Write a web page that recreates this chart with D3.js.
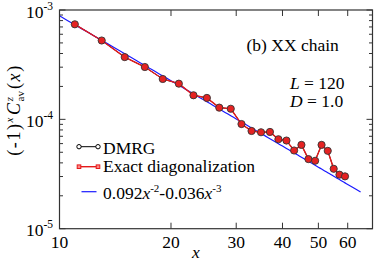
<!DOCTYPE html>
<html>
<head>
<meta charset="utf-8">
<script src="https://cdn.jsdelivr.net/npm/d3@7"></script>
<style>
  html, body { margin: 0; padding: 0; background: #fff; }
  svg { display: block; font-family: "Liberation Serif", "Times New Roman", serif; }
</style>
</head>
<body>
<div id="vis"></div>
<script>
// distance x along the chain
var sites = [11, 13, 15, 17, 19, 21, 23, 25, 27, 29, 31, 33, 35, 37, 39, 41, 43, 45, 47, 49, 51, 53, 55, 57, 59]
// (-1)^x C^z_av(x), DMRG and exact diagonalization agree
var dmrgVals = [7.40e-4, 5.26e-4, 3.71e-4, 3.01e-4, 2.34e-4, 2.12e-4, 1.66e-4, 1.57e-4, 1.28e-4, 1.25e-4,
                9.06e-5, 7.83e-5, 7.62e-5, 7.67e-5, 6.58e-5, 6.40e-5, 5.19e-5, 5.84e-5, 4.33e-5, 4.18e-5,
                5.84e-5, 5.15e-5, 3.53e-5, 3.12e-5, 3.01e-5]
var edVals = dmrgVals.slice()
// fit 0.092x^-2 - 0.036x^-3 (from the legend)
var fitCoef = [0.092, 0.036]
var fitRange = [10, 65.3]
var xTicks = [10, 20, 30, 40, 50, 60]
var yTicks = [1e-5, 1e-4, 1e-3]

var W = 374, H = 263
var margin = { left: 59.5, right: 372.5, top: 10, bottom: 228.7 }

var svg = d3.select("#vis").append("svg")
    .attr("width", W)
    .attr("height", H)

var x = d3.scaleLog().domain([10, 70]).range([margin.left, margin.right])
var y = d3.scaleLog().domain([1e-5, 1e-3]).range([margin.bottom, margin.top])

var axisColor = "#333"

// minor y ticks
var minorY = []
;[1e-5, 1e-4].forEach(function (d) {
    for (var k = 2; k <= 9; k++) minorY.push(d * k)
})

var ticks = svg.append("g").attr("stroke", axisColor).attr("stroke-width", 1)
minorY.forEach(function (v) {
    ticks.append("line").attr("x1", margin.left).attr("x2", margin.left + 3.5).attr("y1", y(v)).attr("y2", y(v))
    ticks.append("line").attr("x1", margin.right).attr("x2", margin.right - 3.5).attr("y1", y(v)).attr("y2", y(v))
})
yTicks.forEach(function (v) {
    ticks.append("line").attr("x1", margin.left).attr("x2", margin.left + 6).attr("y1", y(v)).attr("y2", y(v))
    ticks.append("line").attr("x1", margin.right).attr("x2", margin.right - 6).attr("y1", y(v)).attr("y2", y(v))
})
xTicks.forEach(function (v) {
    ticks.append("line").attr("x1", x(v)).attr("x2", x(v)).attr("y1", margin.bottom).attr("y2", margin.bottom - 6)
    ticks.append("line").attr("x1", x(v)).attr("x2", x(v)).attr("y1", margin.top).attr("y2", margin.top + 6)
})

// fit curve
var fitPts = []
for (var t = fitRange[0]; t <= fitRange[1] + 1e-9; t += 0.5) {
    fitPts.push([t, fitCoef[0] / (t * t) - fitCoef[1] / (t * t * t)])
}
var line = d3.line().x(function (d) { return x(d[0]) }).y(function (d) { return y(d[1]) })

svg.append("path")
    .datum(d3.zip(sites, dmrgVals))
    .attr("d", line)
    .attr("fill", "none")
    .attr("stroke", "#000")
    .attr("stroke-width", 1)

svg.append("path")
    .datum(fitPts)
    .attr("d", line)
    .attr("fill", "none")
    .attr("stroke", "#1a1aff")
    .attr("stroke-width", 1.2)

svg.append("path")
    .datum(d3.zip(sites, edVals))
    .attr("d", line)
    .attr("fill", "none")
    .attr("stroke", "#e41a1a")
    .attr("stroke-width", 1.4)

svg.selectAll("circle.pt")
    .data(d3.zip(sites, dmrgVals))
    .enter()
    .append("circle")
    .attr("class", "pt")
    .attr("cx", function (d) { return x(d[0]) })
    .attr("cy", function (d) { return y(d[1]) })
    .attr("r", 3.6)
    .attr("fill", "#e52222")
    .attr("stroke", "#333")
    .attr("stroke-width", 0.9)

// frame
svg.append("rect")
    .attr("x", margin.left).attr("y", margin.top)
    .attr("width", margin.right - margin.left).attr("height", margin.bottom - margin.top)
    .attr("fill", "none")
    .attr("stroke", axisColor)
    .attr("stroke-width", 1.2)

// tick labels
var fs = 17.5
xTicks.forEach(function (v) {
    svg.append("text")
        .attr("x", x(v)).attr("y", 248)
        .attr("text-anchor", "middle")
        .attr("font-size", fs)
        .text(v)
})
yTicks.forEach(function (v) {
    var e = Math.round(Math.log10(v))
    var tx = svg.append("text")
        .attr("x", 53).attr("y", y(v) + 7.5)
        .attr("text-anchor", "end")
        .attr("font-size", fs)
    tx.append("tspan").text("10")
    tx.append("tspan").attr("dy", -8).attr("font-size", 11.5).text(e)
})

// axis titles
svg.append("text")
    .attr("x", 196).attr("y", 258)
    .attr("text-anchor", "middle")
    .attr("font-size", fs)
    .attr("font-style", "italic")
    .text("x")

var yl = svg.append("text")
    .attr("transform", "translate(20,110) rotate(-90)")
    .attr("text-anchor", "middle")
    .attr("font-size", 18)
    .attr("letter-spacing", 1.6)
yl.append("tspan").text("(-1)")
yl.append("tspan").attr("dy", -7).attr("font-size", 11).attr("font-style", "italic").text("x")
yl.append("tspan").attr("dx", 1).attr("dy", 7).attr("font-style", "italic").text("C")
yl.append("tspan").attr("dy", -7).attr("font-size", 11).attr("font-style", "italic").text("z")
yl.append("tspan").attr("dx", -6).attr("dy", 11).attr("font-size", 11).attr("letter-spacing", 0).text("av")
yl.append("tspan").attr("dx", 2).attr("dy", -4).text("(")
yl.append("tspan").attr("font-style", "italic").text("x")
yl.append("tspan").text(")")

// annotations
svg.append("text").attr("x", 246.5).attr("y", 51).attr("font-size", fs).text("(b) XX chain")
var tL = svg.append("text").attr("x", 290).attr("y", 89).attr("font-size", fs)
tL.append("tspan").attr("font-style", "italic").text("L")
tL.append("tspan").text(" = 120")
var tD = svg.append("text").attr("x", 290).attr("y", 107).attr("font-size", fs)
tD.append("tspan").attr("font-style", "italic").text("D")
tD.append("tspan").text(" = 1.0")

// legend
var lg = svg.append("g")
lg.append("line").attr("x1", 79).attr("x2", 98).attr("y1", 146.7).attr("y2", 146.7)
    .attr("stroke", "#000").attr("stroke-width", 1)
;[79, 98].forEach(function (cx) {
    lg.append("circle").attr("cx", cx).attr("cy", 146.7).attr("r", 2.2)
        .attr("fill", "#fff").attr("stroke", "#000").attr("stroke-width", 1)
})
lg.append("text").attr("x", 103).attr("y", 154).attr("font-size", fs).text("DMRG")

lg.append("line").attr("x1", 79).attr("x2", 98).attr("y1", 166.7).attr("y2", 166.7)
    .attr("stroke", "#e41a1a").attr("stroke-width", 1.4)
;[79, 98].forEach(function (cx) {
    lg.append("rect").attr("x", cx - 1.8).attr("y", 166.7 - 1.8).attr("width", 3.6).attr("height", 3.6)
        .attr("fill", "#f88").attr("stroke", "#e41a1a").attr("stroke-width", 1)
})
lg.append("text").attr("x", 103).attr("y", 172).attr("font-size", fs).text("Exact diagonalization")

lg.append("line").attr("x1", 81.5).attr("x2", 96.5).attr("y1", 191.7).attr("y2", 191.7)
    .attr("stroke", "#1a1aff").attr("stroke-width", 1.2)
var ft = lg.append("text").attr("x", 103).attr("y", 199).attr("font-size", fs)
ft.append("tspan").text("0.092")
ft.append("tspan").attr("font-style", "italic").text("x")
ft.append("tspan").attr("dy", -7).attr("font-size", 11).text("-2")
ft.append("tspan").attr("dy", 7).text("-0.036")
ft.append("tspan").attr("font-style", "italic").text("x")
ft.append("tspan").attr("dy", -7).attr("font-size", 11).text("-3")
</script>
</body>
</html>
